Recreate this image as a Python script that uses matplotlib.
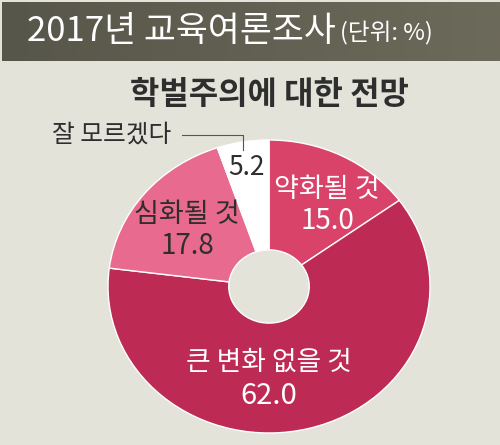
import matplotlib.pyplot as plt
import numpy as np
from matplotlib.colors import LinearSegmentedColormap

plt.rcParams['font.family'] = ['Noto Sans CJK KR', 'DejaVu Sans']

# ------------------------------------------------------------
# 데이터
# ------------------------------------------------------------
labels = ['약화될 것', '큰 변화 없을 것', '심화될 것', '잘 모르겠다']
values = [15.0, 62.0, 17.8, 5.2]
colors = ['#d9436a', '#bd2a53', '#e86a8e', '#ffffff']

title = '2017년 교육여론조사'
unit = '(단위: %)'
subtitle = '학벌주의에 대한 전망'

BG = '#e4e3da'
DARK = '#2e2e2e'

fig = plt.figure(figsize=(5.0, 4.45), dpi=100)
fig.patch.set_facecolor(BG)

# ── 상단 헤더 (왼쪽 어둡고 오른쪽 약간 밝은 그라데이션) ──
hdr = fig.add_axes([0.004, 1 - 61 / 445, 0.996, 59 / 445])
hdr.imshow(np.linspace(0, 1, 256).reshape(1, -1), aspect='auto',
           cmap=LinearSegmentedColormap.from_list('h', ['#57564a', '#6c6a5a']),
           extent=[0, 1, 0, 1])
hdr.set_axis_off()
fig.text(27 / 500, 1 - 32 / 445, title, fontsize=25, color='white',
         va='center', ha='left', fontweight='medium')
fig.text(340 / 500, 1 - 33 / 445, unit, fontsize=17, color='white',
         va='center', ha='left')

fig.text(269 / 500, 1 - 95 / 445, subtitle, fontsize=23, color=DARK,
         va='center', ha='center', fontweight='bold')

# ── 도넛 차트 (가로로 약간 늘어난 타원) ──
ax = fig.add_axes([108 / 500, 1 - 433 / 445, 322 / 500, 293 / 445])
ax.pie(values, colors=colors, startangle=90, counterclock=False, radius=1,
       wedgeprops=dict(width=0.75, edgecolor='white', linewidth=1.0))
ax.set_aspect('auto')
ax.set_xlim(-1, 1)
ax.set_ylim(-1, 1)
ax.set_facecolor('none')

def lab(x, y, name, val, color, fs_name=19.5, fs_val=20, gap=0.215):
    ax.text(x, y, name, color=color, fontsize=fs_name, ha='center', va='center')
    ax.text(x, y - gap, f'{val:.1f}', color=color, fontsize=fs_val,
            ha='center', va='center')

lab(0.36, 0.665, labels[0], values[0], 'white')
lab(-0.51, 0.49, labels[2], values[2], DARK)
lab(0.0, -0.52, labels[1], values[1], 'white', fs_name=19.3, fs_val=21, gap=0.225)

ax.text(-0.137, 0.81, f'{values[3]:.1f}', color=DARK, fontsize=19,
        ha='center', va='center')
ax.text(-0.98, 1.035, labels[3], color=DARK, fontsize=17.8,
        ha='center', va='center', clip_on=False)
ax.plot([-0.54, -0.161, -0.161], [1.033, 1.033, 0.93], color='#555555',
        linewidth=0.8, clip_on=False)

fig.savefig('out.png', dpi=100, facecolor=BG)
